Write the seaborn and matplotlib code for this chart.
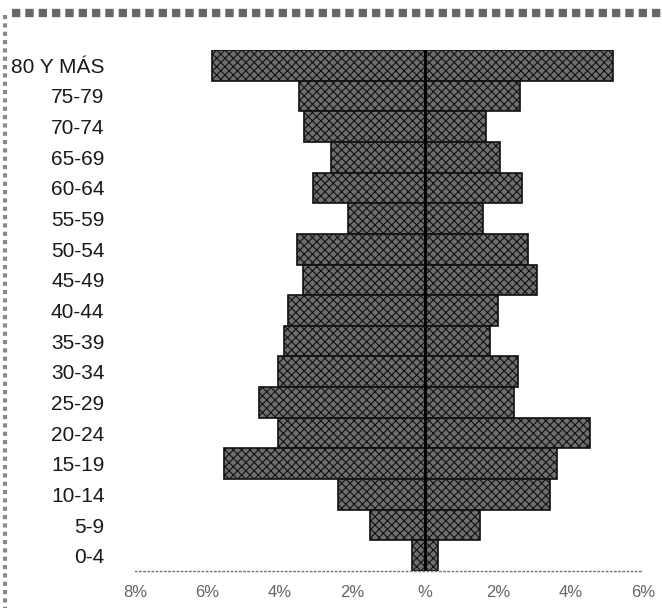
import matplotlib
matplotlib.use("Agg")
import matplotlib.pyplot as plt
from matplotlib.lines import Line2D
import numpy as np
import pandas as pd
import seaborn as sns

# ── Datos (porcentaje de la población por grupo de edad) ──
grupos = ["80 Y MÁS", "75-79", "70-74", "65-69", "60-64", "55-59", "50-54",
          "45-49", "40-44", "35-39", "30-34", "25-29", "20-24", "15-19",
          "10-14", "5-9", "0-4"]
hombres = [5.87, 3.47, 3.33, 2.59, 3.09, 2.12, 3.53, 3.36, 3.77, 3.88,
           4.05, 4.57, 4.05, 5.54, 2.40, 1.52, 0.36]
mujeres = [5.18, 2.62, 1.68, 2.07, 2.67, 1.60, 2.84, 3.09, 2.01, 1.79,
           2.56, 2.45, 4.55, 3.64, 3.44, 1.52, 0.36]
xticks = [-8, -6, -4, -2, 0, 2, 4, 6]
xlabels = ["8%", "6%", "4%", "2%", "%", "2%", "4%", "6%"]

df = pd.DataFrame({
    "grupo": grupos * 2,
    "valor": [-v for v in hombres] + mujeres,
    "sexo": ["Hombres"] * len(grupos) + ["Mujeres"] * len(grupos),
})

sns.set_theme(style="white")
plt.rcParams["font.family"] = ["Liberation Sans", "DejaVu Sans"]
plt.rcParams["hatch.color"] = "#111111"
plt.rcParams["hatch.linewidth"] = 0.8

fig = plt.figure(figsize=(6.62, 6.08), dpi=100)
ax = fig.add_axes([135 / 662, 37 / 608, (643 - 135) / 662, (571 - 50) / 608])

sns.barplot(data=df, y="grupo", x="valor", hue="sexo", order=grupos,
            palette=["#6e6e6e", "#6e6e6e"], dodge=False, width=1.0,
            orient="h", legend=False, ax=ax, linewidth=1.2,
            edgecolor="#111111")
for p in ax.patches:
    p.set_hatch("xxxx")

ax.set_xlim(-8, 6)
ax.set_ylim(16.5, -0.5)
ax.axvline(0, color="#000000", lw=2.0)

for s in ["top", "right", "left"]:
    ax.spines[s].set_visible(False)
ax.spines["bottom"].set_linestyle((0, (1, 2)))
ax.spines["bottom"].set_color("#777777")
ax.spines["bottom"].set_linewidth(1.0)

ax.set_xticks(xticks)
ax.set_xticklabels(xlabels, fontsize=12, color="#666666")
ax.tick_params(axis="x", length=0, pad=10)
ax.tick_params(axis="y", length=0, pad=22, labelsize=15)
for t in ax.get_yticklabels():
    t.set_color("#1a1a1a")
ax.set_xlabel("")
ax.set_ylabel("")

# Marco escaneado (borde superior e izquierdo)
fig.add_artist(Line2D([12 / 662, 1.0], [1 - 13 / 608, 1 - 13 / 608],
                      transform=fig.transFigure, color="#666666", lw=6,
                      ls=(0, (1, 0.6))))
fig.add_artist(Line2D([5 / 662, 5 / 662], [1 - 15 / 608, 0.0],
                      transform=fig.transFigure, color="#888888", lw=3,
                      ls=(0, (1, 1))))

fig.savefig("out.png", dpi=100, facecolor="white")
